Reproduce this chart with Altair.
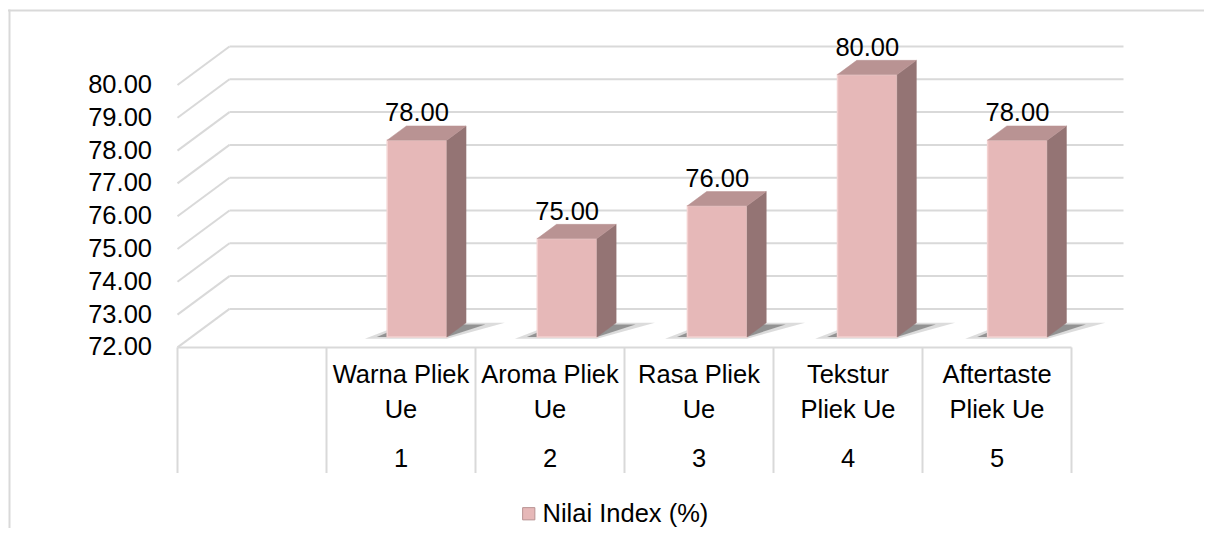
import altair as alt
import pandas as pd

# ---------------- data ----------------
categories = ["Warna Pliek\nUe", "Aroma Pliek\nUe", "Rasa Pliek\nUe",
              "Tekstur\nPliek Ue", "Aftertaste\nPliek Ue"]
category_numbers = ["1", "2", "3", "4", "5"]
values = [78.0, 75.0, 76.0, 80.0, 78.0]
y_ticks = [72, 73, 74, 75, 76, 77, 78, 79, 80]
series_name = "Nilai Index (%)"

# ---------------- layout constants ----------------
W, H = 1196, 520
X0, SLOT = 169.5, 149.0          # px of slot 0 left edge, px per slot
Y_REF_VAL, Y_REF_PX, UNIT = 80, 77.0, 32.8
x_dom = [-X0 / SLOT, (W - X0) / SLOT]
y_dom = [Y_REF_VAL - (H - Y_REF_PX) / UNIT, Y_REF_VAL + Y_REF_PX / UNIT]
DX, DY = 0.349, 1.174            # full depth offset (slot units, value units)
F1, F2 = 0.27, 0.64              # bar front / back depth fractions
HW = 0.2                         # bar half width
PITCH, OFF = 1.0074, 0.6
BASE = 72
TABLE_BOTTOM = 68.17
N_SLOTS = 6

FONT = "Liberation Sans"
FS = 25.5
GRID = "#d9d9d9"
FRONT = "#E6B8B8"
SIDE = "#947474"
TOP = "#B99393"

xs = alt.Scale(domain=x_dom, nice=False, zero=False)
ys = alt.Scale(domain=y_dom, nice=False, zero=False)

def X(f):
    return alt.X(f, type="quantitative", scale=xs, axis=None)

def Y(f):
    return alt.Y(f, type="quantitative", scale=ys, axis=None)

# ---------------- tables ----------------
grid_df = pd.DataFrame({"v": y_ticks})
grid_df["x1"] = DX
grid_df["x2"] = N_SLOTS + DX
grid_df["yb"] = grid_df["v"] + DY
grid_df["x0"] = 0.0
grid_df["label"] = [f"{v:.2f}" for v in y_ticks]

slots_df = pd.DataFrame({"s": list(range(N_SLOTS + 1))})
slots_df["y1"] = BASE
slots_df["y2"] = TABLE_BOTTOM

ddx = (F2 - F1) * DX
ddy = (F2 - F1) * DY

bars = pd.DataFrame({"cat": categories, "num": category_numbers, "v": values})
bars["k"] = range(1, len(values) + 1)
bars["c"] = OFF + bars["k"] * PITCH
bars["slot_c"] = bars["k"] + 0.5
bars["xl"] = bars["c"] - HW
bars["xr"] = bars["c"] + HW
bars["yb"] = BASE + F1 * DY
bars["yt"] = bars["v"] + F1 * DY
bars["label"] = [f"{v:.2f}" for v in values]
bars["series"] = series_name

# polygons: list of (x, y) corners, drawn as closed filled lines
poly_rows = []
for i in range(len(values)):
    xl, xr = float(bars["xl"][i]), float(bars["xr"][i])
    yb, yt = float(bars["yb"][i]), float(bars["yt"][i])
    k = int(bars["k"][i])
    side = [(xr, yb), (xr + ddx, yb + ddy), (xr + ddx, yt + ddy), (xr, yt)]
    top = [(xl, yt), (xr, yt), (xr + ddx, yt + ddy), (xl + ddx, yt + ddy)]
    yb2 = BASE + F2 * DY
    shadow_out = [(xl - 0.15, yb - 0.05), (xr, yb - 0.05),
                  (xr + ddx + 0.26, yb2), (xl + ddx, yb2)]
    shadow_in = [(xl - 0.07, yb), (xr, yb),
                 (xr + ddx + 0.13, yb2 - 0.05), (xl + ddx, yb2 - 0.05)]
    for part, pts in (("side", side), ("top", top),
                      ("shadow_out", shadow_out), ("shadow_in", shadow_in)):
        for j, (px, py) in enumerate(pts + [pts[0]]):
            poly_rows.append({"k": k, "part": part, "o": j, "px": px, "py": py})
poly_df = pd.DataFrame(poly_rows)

one = pd.DataFrame({"a": [0]})

# ---------------- layers ----------------
border_top = alt.Chart(one).mark_rule(color=GRID, strokeWidth=2).encode(
    x=alt.value(0), x2=alt.value(W), y=alt.value(2.5))
border_left = alt.Chart(one).mark_rule(color=GRID, strokeWidth=2).encode(
    x=alt.value(1.5), y=alt.value(1.5), y2=alt.value(H))

back_grid = alt.Chart(grid_df).mark_rule(color=GRID, strokeWidth=2).encode(
    x=X("x1"), x2="x2", y=Y("yb"))
diag = alt.Chart(grid_df).mark_rule(color=GRID, strokeWidth=2).encode(
    x=X("x0"), x2="x1", y=Y("v"), y2="yb")
table_v = alt.Chart(slots_df).mark_rule(color=GRID, strokeWidth=2).encode(
    x=X("s"), y=Y("y1"), y2="y2")
table_top = alt.Chart(one).transform_calculate(
    x1="0", x2=str(N_SLOTS), y=str(BASE)
).mark_rule(color=GRID, strokeWidth=2).encode(
    x=X("x1"), x2="x2", y=Y("y"))

def poly_layer(part, fill, opacity=1.0, sw=0.5):
    return alt.Chart(poly_df).transform_filter(
        alt.datum.part == part
    ).mark_line(fill=fill, stroke=fill, strokeWidth=sw, fillOpacity=opacity,
                strokeOpacity=opacity, interpolate="linear-closed").encode(
        x=X("px"), y=Y("py"), detail="k:N", order="o:Q")

shadow_out = poly_layer("shadow_out", "#8c8c8c", 0.3, 0)
shadow_in = poly_layer("shadow_in", "#555555", 0.55, 0)

front = alt.Chart(bars).mark_rect(stroke="#F3D2D1", strokeWidth=1.5).encode(
    x=X("xl"), x2="xr", y=Y("yb"), y2="yt",
    color=alt.Color("series:N",
                    scale=alt.Scale(domain=[series_name], range=[FRONT]),
                    legend=alt.Legend(orient="none", legendX=508, legendY=493,
                                      title=None, padding=0,
                                      symbolType="square", symbolSize=150,
                                      symbolStrokeColor="#B89292",
                                      symbolStrokeWidth=1,
                                      labelFont=FONT, labelFontSize=FS,
                                      labelColor="#000000", labelOffset=1,
                                      labelLimit=400)))

side = poly_layer("side", SIDE)
top = poly_layer("top", TOP)

data_labels = alt.Chart(bars).mark_text(
    font=FONT, fontSize=FS, color="#000000", baseline="alphabetic",
    align="center", dy=-29.5).encode(x=X("c"), y=Y("v"), text="label:N")

ytick_labels = alt.Chart(grid_df).mark_text(
    font=FONT, fontSize=FS, color="#000000", baseline="middle",
    align="right", dx=-25.5).encode(x=X("x0"), y=Y("v"), text="label:N")

cat_labels = alt.Chart(bars).mark_text(
    font=FONT, fontSize=FS, color="#000000", baseline="alphabetic",
    align="center", dy=35.5, lineBreak="\n", lineHeight=35).encode(
    x=X("slot_c"), y=Y("yb0"), text="cat:N"
).transform_calculate(yb0=str(BASE))

num_labels = alt.Chart(bars).mark_text(
    font=FONT, fontSize=FS, color="#000000", baseline="alphabetic",
    align="center", dy=119.5).encode(
    x=X("slot_c"), y=Y("yb0"), text="num:N"
).transform_calculate(yb0=str(BASE))

chart = alt.layer(
    border_top, border_left, back_grid, diag, table_v, table_top,
    shadow_out, shadow_in, front, side, top,
    data_labels, ytick_labels, cat_labels, num_labels
).properties(
    width=W, height=H, padding=0, autosize=alt.AutoSizeParams(type="none")
).configure_view(stroke=None)

chart.save("out.html", embed_options={"renderer": "svg", "actions": False})
